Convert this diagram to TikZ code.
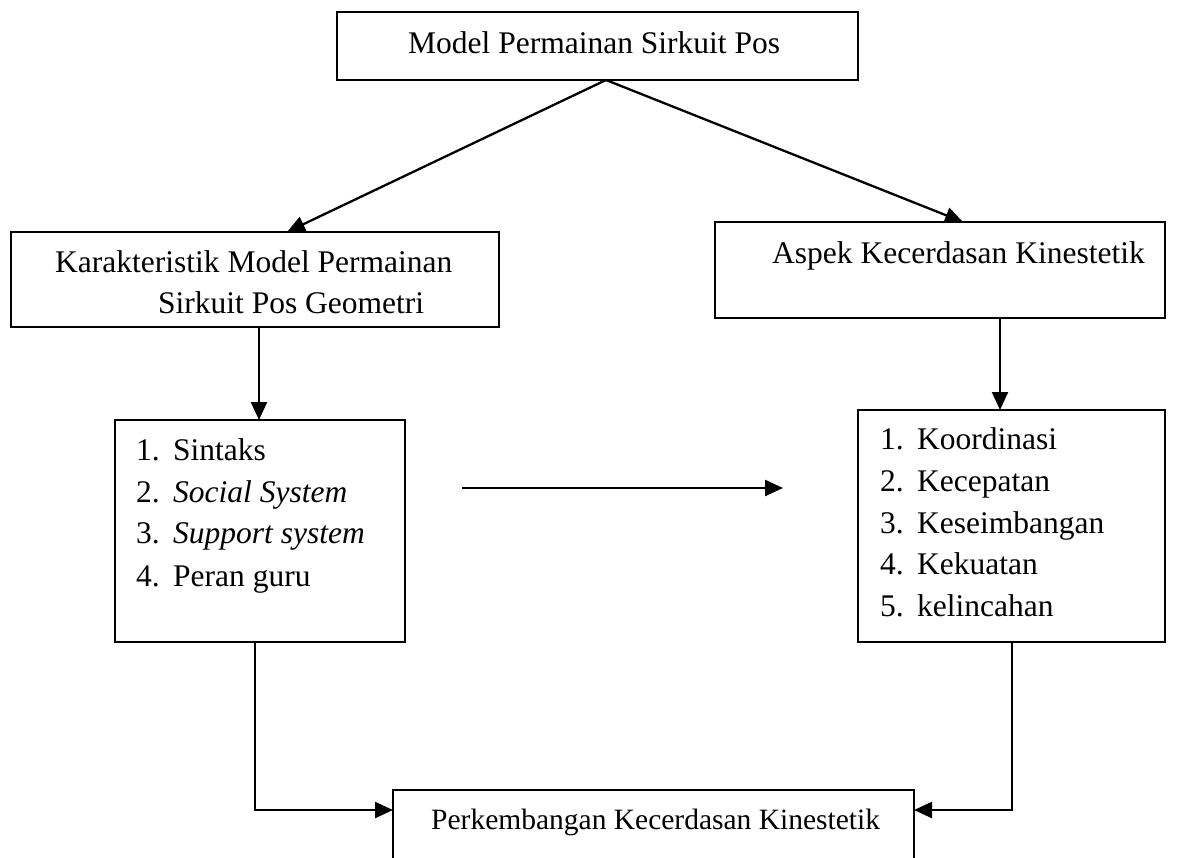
\documentclass[tikz,border=0pt]{standalone}
\usepackage{fontspec}
\setmainfont{Liberation Serif}
\usetikzlibrary{arrows.meta,calc}
\begin{document}
\begin{tikzpicture}[x=1pt,y=-1pt,
  box/.style={draw,line width=2pt,inner sep=0pt,outer sep=0pt,anchor=north west},
  conn/.style={line width=2.3pt,-{Triangle[length=18pt,width=16pt]}},
  txt/.style={anchor=base west,inner sep=0pt,font=\fontsize{31.5}{38}\selectfont},
  small/.style={anchor=base west,inner sep=0pt,font=\fontsize{29.5}{35}\selectfont},
]
\useasboundingbox (0,0) rectangle (1204,857);
\clip (0,0) rectangle (1204,857);
\fill[white] (0,0) rectangle (1204,857);

% boxes
\node[box,minimum width=521pt,minimum height=68pt] (model) at (337,12) {};
\node[box,minimum width=488pt,minimum height=95pt] (karak) at (11,232) {};
\node[box,minimum width=450pt,minimum height=96pt] (aspek) at (715,222) {};
\node[box,minimum width=290pt,minimum height=222pt] (lista) at (115,420) {};
\node[box,minimum width=307pt,minimum height=232pt] (listb) at (858,410) {};
\node[box,minimum width=521pt,minimum height=90pt] (hasil) at (393,790) {};

% box texts
\node[txt] (tmodel) at (408,53) {Model Permainan Sirkuit Pos};
\node[txt] (tkar1) at (55,272) {Karakteristik Model Permainan};
\node[txt] (tkar2) at (158,313) {Sirkuit Pos Geometri};
\node[txt] (taspek) at (772,263) {Aspek Kecerdasan Kinestetik};
\node[small] (thasil) at (431,829) {Perkembangan Kecerdasan Kinestetik};

% left list
\node[txt] (na1) at (136,460) {1.};
\node[txt] (ia1) at (173,460) {Sintaks};
\node[txt] (na2) at (136,502) {2.};
\node[txt] (ia2) at (173,502) {\itshape Social System};
\node[txt] (na3) at (136,543) {3.};
\node[txt] (ia3) at (173,543) {\itshape Support system};
\node[txt] (na4) at (136,586) {4.};
\node[txt] (ia4) at (173,586) {Peran guru};

% right list
\node[txt] (nb1) at (880,449) {1.};
\node[txt] (ib1) at (917,449) {Koordinasi};
\node[txt] (nb2) at (880,491) {2.};
\node[txt] (ib2) at (917,491) {Kecepatan};
\node[txt] (nb3) at (880,533) {3.};
\node[txt] (ib3) at (917,533) {Keseimbangan};
\node[txt] (nb4) at (880,574) {4.};
\node[txt] (ib4) at (917,574) {Kekuatan};
\node[txt] (nb5) at (880,616) {5.};
\node[txt] (ib5) at (917,616) {kelincahan};

% connectors
\draw[conn] ([xshift=8.5pt]model.south) -- ([xshift=32pt]karak.north);
\draw[conn] ([xshift=8.5pt]model.south) -- ([xshift=23pt]aspek.north);
\draw[conn] ([xshift=4pt]karak.south) -- ([xshift=-1pt]lista.north);
\draw[conn] ([xshift=60pt]aspek.south) -- ([xshift=-11.5pt]listb.north);

\coordinate (midl) at (462,488);
\coordinate (midr) at (783,488);
\draw[conn] (midl) -- (midr);

\coordinate (bendl) at ($(lista.south)+(-5,168)$);
\coordinate (bendr) at ($(listb.south)+(0.5,168)$);
\draw[conn] ([xshift=-5pt]lista.south) -- (bendl) -- (bendl -| hasil.west);
\draw[conn] ([xshift=0.5pt]listb.south) -- (bendr) -- (bendr -| hasil.east);
\end{tikzpicture}
\end{document}
